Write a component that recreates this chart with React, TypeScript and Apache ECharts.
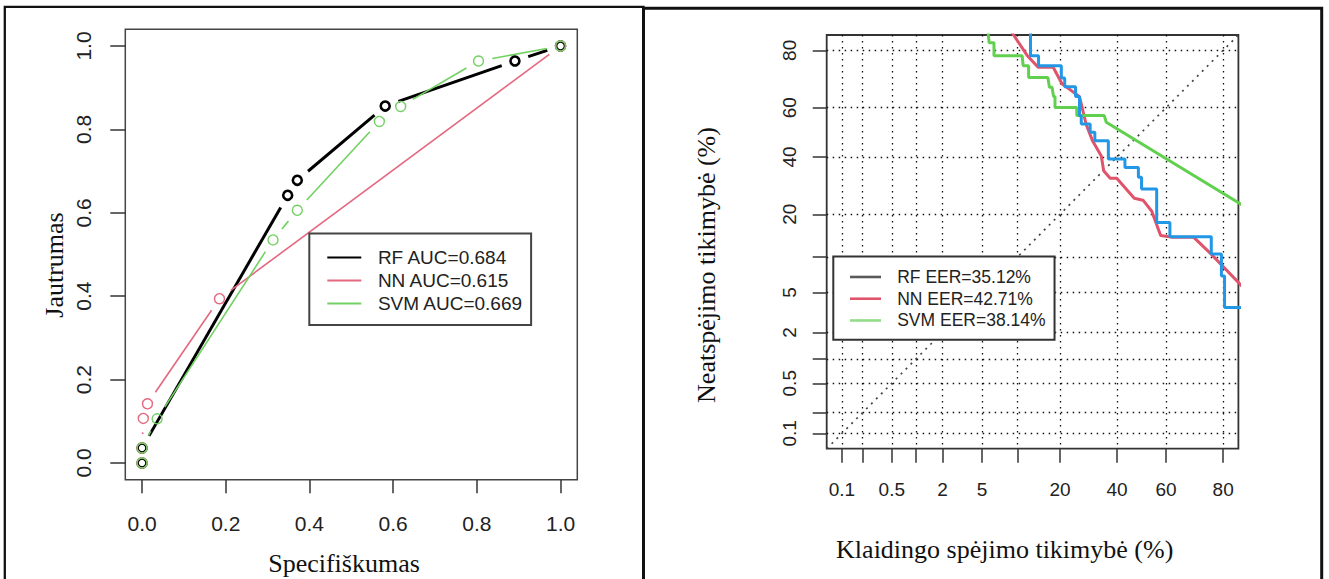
import React, { useEffect, useRef } from 'react';
import * as echarts from 'echarts';

// ---------- ROC (left) data ----------
const ROC_TICKS = [0, 0.2, 0.4, 0.6, 0.8, 1.0];
const RF_ROC = [[0, 0], [0, 0.036], [0.348, 0.642], [0.371, 0.678], [0.581, 0.856], [0.891, 0.964], [1, 1]];
const NN_ROC = [[0, 0], [0, 0.036], [0.003, 0.107], [0.013, 0.142], [0.185, 0.394], [1, 1]];
const SVM_ROC = [[0, 0], [0, 0.036], [0.036, 0.106], [0.313, 0.535], [0.371, 0.606], [0.567, 0.819], [0.618, 0.855], [0.804, 0.964], [1, 1]];
const ROC_NAMES = ['RF AUC=0.684', 'NN AUC=0.615', 'SVM AUC=0.669'];

// ---------- DET (right) data, in percent ----------
const DET_TICKS = [0.1, 0.2, 0.5, 1, 2, 5, 10, 20, 40, 60, 80];
const DET_X_LABELS = [0.1, 0.5, 2, 5, 20, 40, 60, 80];
const DET_Y_LABELS = [0.1, 0.5, 2, 5, 20, 40, 60, 80];
const DET_NAMES = ['RF EER=35.12%', 'NN EER=42.71%', 'SVM EER=38.14%'];
const RF_DET = [[12.6, 86], [12.6, 78.4], [14.4, 78.4], [14.4, 75.3], [20.4, 75.3], [20.4, 71.1], [21.4, 71.1], [21.4, 68.0], [24.8, 68.0], [24.8, 64.3], [26.1, 64.3], [26.1, 56.8], [26.7, 56.8], [26.7, 53.4], [29.8, 53.4], [29.8, 50.0], [31.5, 50.0], [31.5, 46.5], [36.6, 46.5], [36.6, 39.2], [43.2, 39.2], [43.2, 35.9], [48.7, 35.9], [48.7, 32.2], [50.0, 32.2], [50.0, 28.0], [56.2, 28.0], [56.2, 17.7], [61.5, 17.7], [61.5, 14.2], [76.4, 14.2], [76.4, 10.6], [79.5, 10.6], [79.5, 7.0], [80.4, 7.0], [80.4, 3.6], [85, 3.6]];
const NN_DET = [[8.8, 85.3], [11.9, 78.5], [14.3, 74.8], [18.1, 74.8], [20.6, 69.1], [26.1, 64.3], [28.4, 53.2], [30.7, 46.4], [33.9, 40.4], [34.8, 34.7], [37.3, 31.9], [39.9, 31.9], [47.0, 24.9], [50.6, 24.3], [54.2, 20.9], [57.8, 14.5], [62.1, 14.1], [70.4, 14.1], [76.3, 10.6], [85, 5.7]];
const SVM_DET = [[5.6, 86], [5.8, 82.1], [6.4, 82.1], [6.4, 78.4], [10.9, 78.4], [11.1, 75.3], [12.2, 75.3], [12.2, 71.3], [16.7, 71.3], [17.1, 67.8], [17.8, 67.8], [18.2, 64.3], [18.6, 64.3], [18.6, 60.1], [25.2, 60.1], [25.2, 56.9], [35.0, 56.9], [35.8, 54.1], [85, 22.8]];

const SANS = '"Liberation Sans", Arial, sans-serif';
const SERIF = '"Liberation Serif", "Times New Roman", serif';

function qnorm(p: number): number {
  const a = [-3.969683028665376e1, 2.209460984245205e2, -2.759285104469687e2, 1.38357751867269e2, -3.066479806614716e1, 2.506628277459239];
  const b = [-5.447609879822406e1, 1.615858368580409e2, -1.556989798598866e2, 6.680131188771972e1, -1.328068155288572e1];
  const c = [-7.784894002430293e-3, -3.223964580411365e-1, -2.400758277161838, -2.549671010208019, 4.374664141464968, 2.938163982698783];
  const d = [7.784695709041462e-3, 3.224671290700398e-1, 2.445134137142996, 3.754408661907416];
  const pl = 0.02425;
  if (p < pl) {
    const q = Math.sqrt(-2 * Math.log(p));
    return (((((c[0] * q + c[1]) * q + c[2]) * q + c[3]) * q + c[4]) * q + c[5]) / ((((d[0] * q + d[1]) * q + d[2]) * q + d[3]) * q + 1);
  }
  if (p <= 1 - pl) {
    const q = p - 0.5, r = q * q;
    return ((((((a[0] * r + a[1]) * r + a[2]) * r + a[3]) * r + a[4]) * r + a[5]) * q) / (((((b[0] * r + b[1]) * r + b[2]) * r + b[3]) * r + b[4]) * r + 1);
  }
  const q = Math.sqrt(-2 * Math.log(1 - p));
  return -(((((c[0] * q + c[1]) * q + c[2]) * q + c[3]) * q + c[4]) * q + c[5]) / ((((d[0] * q + d[1]) * q + d[2]) * q + d[3]) * q + 1);
}
const pz = (pct: number) => qnorm(pct / 100);
const LO = pz(0.1), HI = pz(80);
const EXT = 0.04 * (HI - LO);
const DMIN = LO - EXT, DMAX = HI + EXT;

function labelFor(list: number[]) {
  return (v: number) => {
    let best = '';
    let bd = 1e9;
    list.forEach((t) => {
      const dd = Math.abs(pz(t) - v);
      if (dd < bd) { bd = dd; best = String(t); }
    });
    return bd < 1e-3 ? best : '';
  };
}

const GAP = 14;
function gapSeries(points: number[][], color: string, width: number, name: string) {
  const segs = points.slice(0, -1).map((p, i) => [p[0], p[1], points[i + 1][0], points[i + 1][1]]);
  return {
    type: 'custom', name, xAxisIndex: 0, yAxisIndex: 0, data: segs, silent: true,
    encode: { x: [0, 2], y: [1, 3] },
    itemStyle: { color },
    renderItem: (_params: any, api: any) => {
      const a = api.coord([api.value(0), api.value(1)]);
      const b = api.coord([api.value(2), api.value(3)]);
      const dx = b[0] - a[0], dy = b[1] - a[1];
      const len = Math.hypot(dx, dy);
      if (len <= 2 * GAP) return { type: 'group', children: [] };
      const ux = dx / len, uy = dy / len;
      return {
        type: 'line',
        shape: { x1: a[0] + ux * GAP, y1: a[1] + uy * GAP, x2: b[0] - ux * GAP, y2: b[1] - uy * GAP },
        style: { stroke: color, lineWidth: width, lineCap: 'butt' },
      };
    },
  };
}
function pointSeries(points: number[][], color: string, border: number, size: number, name: string) {
  return {
    type: 'scatter', name, xAxisIndex: 0, yAxisIndex: 0, data: points, silent: true,
    symbol: 'circle', symbolSize: size,
    itemStyle: { color: 'rgba(0,0,0,0)', borderColor: color, borderWidth: border, opacity: 1 },
  };
}
function detSeries(points: number[][], color: string, name: string) {
  return {
    type: 'line', name, xAxisIndex: 1, yAxisIndex: 1, silent: true, clip: true,
    data: points.map((p) => [pz(p[0]), pz(p[1])]),
    showSymbol: false, symbol: 'none',
    itemStyle: { color },
    lineStyle: { color, width: 3 },
  };
}

const C_RF = '#000000', C_NN = '#E4687F', C_SVM = '#72D162';
const D_RF = '#2297E6', D_NN = '#DF536B', D_SVM = '#61D04F';

const tickStyle = { color: '#333', width: 1.5 };
const detTickVals = DET_TICKS.map(pz);

const option: any = {
  animation: false,
  textStyle: { fontFamily: SANS },
  grid: [
    { left: 125.3, top: 29.3, width: 452, height: 450.4, show: true, borderColor: '#444', borderWidth: 1.5, backgroundColor: 'transparent' },
    { left: 826.7, top: 35, width: 411.7, height: 413.7, show: true, borderColor: '#333', borderWidth: 1.8, backgroundColor: 'transparent' },
  ],
  xAxis: [
    {
      gridIndex: 0, type: 'value', min: -0.04, max: 1.04, position: 'bottom',
      axisLine: { show: false, onZero: false },
      axisTick: { show: true, length: 13.5, lineStyle: tickStyle, customValues: ROC_TICKS },
      axisLabel: { show: true, customValues: ROC_TICKS, formatter: (v: number) => v.toFixed(1), fontSize: 21, color: '#222', margin: 43.6, align: 'center', verticalAlign: 'middle', fontFamily: SANS },
      splitLine: { show: false },
    },
    {
      gridIndex: 1, type: 'value', min: DMIN, max: DMAX, position: 'bottom',
      axisLine: { show: false, onZero: false },
      axisTick: { show: true, length: 14, lineStyle: tickStyle, customValues: detTickVals },
      axisLabel: { show: true, customValues: DET_X_LABELS.map(pz), formatter: labelFor(DET_X_LABELS), fontSize: 19, color: '#222', margin: 41, align: 'center', verticalAlign: 'middle', fontFamily: SANS },
      splitLine: { show: true, lineStyle: { color: '#111', type: [1.5, 4.5], width: 1.3 } },
    },
  ],
  yAxis: [
    {
      gridIndex: 0, type: 'value', min: -0.04, max: 1.04, position: 'left',
      axisLine: { show: false, onZero: false },
      axisTick: { show: true, length: 15, lineStyle: tickStyle, customValues: ROC_TICKS },
      axisLabel: { show: true, customValues: ROC_TICKS, formatter: (v: number) => v.toFixed(1), fontSize: 21, color: '#222', margin: 42, rotate: 90, align: 'center', verticalAlign: 'middle', fontFamily: SANS },
      splitLine: { show: false },
    },
    {
      gridIndex: 1, type: 'value', min: DMIN, max: DMAX, position: 'left',
      axisLine: { show: false, onZero: false },
      axisTick: { show: true, length: 14, lineStyle: tickStyle, customValues: detTickVals },
      axisLabel: { show: true, customValues: DET_Y_LABELS.map(pz), formatter: labelFor(DET_Y_LABELS), fontSize: 19, color: '#222', margin: 37.3, rotate: 90, align: 'center', verticalAlign: 'middle', fontFamily: SANS },
      splitLine: { show: true, lineStyle: { color: '#111', type: [1.5, 4.5], width: 1.3 } },
    },
  ],
  legend: [
    {
      left: 309.3, top: 233.4, orient: 'vertical', selectedMode: false,
      backgroundColor: '#fff', borderColor: '#444', borderWidth: 2,
      padding: [13.5, 8, 11, 18], itemGap: 2, itemWidth: 34, itemHeight: 2, icon: 'rect',
      textStyle: { fontSize: 19, color: '#222', fontFamily: SANS, lineHeight: 21, padding: [0, 0, 0, 11.6] },
      data: [
        { name: ROC_NAMES[0], itemStyle: { color: C_RF, borderWidth: 0 } },
        { name: ROC_NAMES[1], itemStyle: { color: C_NN, borderWidth: 0 } },
        { name: ROC_NAMES[2], itemStyle: { color: C_SVM, borderWidth: 0 } },
      ],
    },
    {
      left: 833.3, top: 256.6, orient: 'vertical', selectedMode: false,
      backgroundColor: '#fff', borderColor: '#333', borderWidth: 2,
      padding: [10.5, 9, 9.3, 16.7], itemGap: 2, itemWidth: 31, itemHeight: 2.6, icon: 'rect',
      textStyle: { fontSize: 17.5, color: '#222', fontFamily: SANS, lineHeight: 19.75, padding: [0, 0, 0, 11.2] },
      data: [
        { name: DET_NAMES[0], itemStyle: { color: '#5a5a5a', borderWidth: 0 } },
        { name: DET_NAMES[1], itemStyle: { color: D_NN, borderWidth: 0 } },
        { name: DET_NAMES[2], itemStyle: { color: '#93DC8A', borderWidth: 0 } },
      ],
    },
  ],
  series: [
    gapSeries(RF_ROC, C_RF, 3, ROC_NAMES[0]),
    gapSeries(NN_ROC, C_NN, 1.6, ROC_NAMES[1]),
    gapSeries(SVM_ROC, C_SVM, 1.6, ROC_NAMES[2]),
    pointSeries(RF_ROC, C_RF, 2.6, 9, ROC_NAMES[0]),
    pointSeries(NN_ROC, C_NN, 1.4, 10, ROC_NAMES[1]),
    pointSeries(SVM_ROC, C_SVM, 1.4, 10, ROC_NAMES[2]),
    {
      type: 'line', name: 'diag', xAxisIndex: 1, yAxisIndex: 1, silent: true,
      data: [[DMIN, DMIN], [DMAX, DMAX]], showSymbol: false, symbol: 'none',
      lineStyle: { color: '#444', width: 1.7, type: [2, 5] }, itemStyle: { color: '#444' },
    },
    detSeries(NN_DET, D_NN, DET_NAMES[1]),
    detSeries(SVM_DET, D_SVM, DET_NAMES[2]),
    detSeries(RF_DET, D_RF, DET_NAMES[0]),
  ],
  graphic: [
    { type: 'rect', silent: true, z: 100, shape: { x: 4.8, y: 6.8, width: 638.7, height: 640 }, style: { fill: 'none', stroke: '#111', lineWidth: 2.3 } },
    { type: 'rect', silent: true, z: 100, shape: { x: 643.5, y: 8.3, width: 678.2, height: 640 }, style: { fill: 'none', stroke: '#111', lineWidth: 3 } },
    { type: 'text', silent: true, x: 344, y: 563.5, style: { text: 'Specifiškumas', fontSize: 26, fontFamily: SERIF, fill: '#111', align: 'center', verticalAlign: 'middle' } },
    { type: 'text', silent: true, x: 54.7, y: 265, rotation: Math.PI / 2, style: { text: 'Jautrumas', fontSize: 26, fontFamily: SERIF, fill: '#111', align: 'center', verticalAlign: 'middle' } },
    { type: 'text', silent: true, x: 1004.7, y: 549.5, style: { text: 'Klaidingo spėjimo tikimybė (%)', fontSize: 26, fontFamily: SERIF, fill: '#111', align: 'center', verticalAlign: 'middle' } },
    { type: 'text', silent: true, x: 706.3, y: 265, rotation: Math.PI / 2, style: { text: 'Neatspėjimo tikimybė (%)', fontSize: 26, fontFamily: SERIF, fill: '#111', align: 'center', verticalAlign: 'middle' } },
  ],
};

export default function App() {
  const ref = useRef<HTMLDivElement>(null);
  useEffect(() => {
    const chart = echarts.init(ref.current as HTMLDivElement, null, { renderer: 'svg', width: 1329, height: 579 });
    chart.setOption(option);
    return () => chart.dispose();
  }, []);
  return <div ref={ref} style={{ position: 'absolute', left: 0, top: 0, width: 1329, height: 579, background: '#fff' }} />;
}
